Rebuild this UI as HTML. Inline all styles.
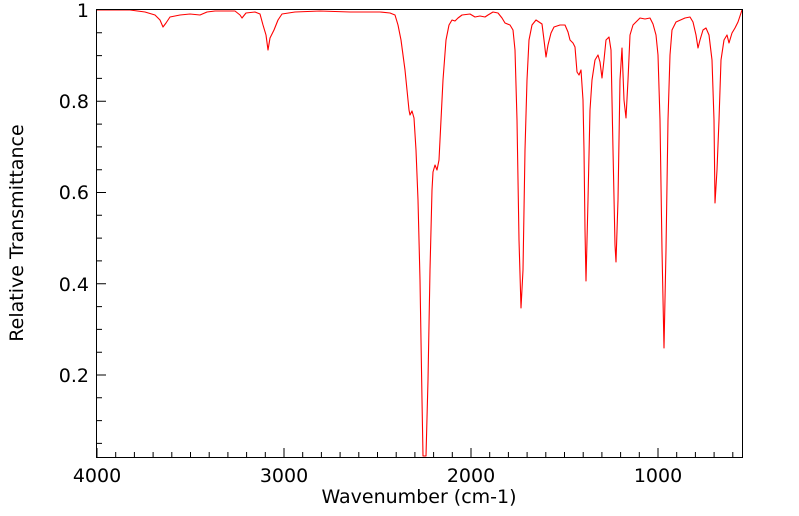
<!DOCTYPE html>
<html><head><meta charset="utf-8"><style>
html,body{margin:0;padding:0;background:#fff;}
svg{display:block;font-family:"DejaVu Sans","Liberation Sans",sans-serif;}
</style></head><body>
<svg width="799" height="516" viewBox="0 0 799 516" xmlns="http://www.w3.org/2000/svg">
<rect x="0" y="0" width="799" height="516" fill="#fff"/>
<g id="ticks" stroke="#000" stroke-width="1"></g>
<polyline fill="none" stroke="#ff0000" stroke-width="1.1" stroke-linejoin="round" points="97,10 130,10 145,12 155,15 160,20 163,27 166,23 170,17 180,15 190,14 200,15 207,12 215,11 235,11 240,15 242,18 246,13 255,12 260,14 263,25 266,35 268,50 270,38 274,30 278,20 282,14 295,12 320,11 350,12 380,12 390,13 395,15 398,25 401,40 403,55 405,70 407,90 409,110 410,115 412,111 414,118 416,150 418,200 420,280 422,400 423,456 426,456 428,380 430,270 432,190 433,172 435,165 437,170 439,160 441,120 443,80 446,40 449,25 452,20 455,21 458,18 462,15 470,14 475,17 480,16 485,17 488,15 493,12 498,13 502,18 505,23 510,25 513,30 515,50 517,120 519,240 521,308 523,270 525,150 527,80 529,40 532,25 536,20 542,24 544,40 546,57 548,45 551,33 554,27 560,25 565,25 568,32 570,40 573,43 575,47 577,72 579,75 581,70 583,100 584,150 585,230 586,281 588,200 590,110 592,80 595,60 598,55 600,62 602,78 604,60 606,40 609,37 611,50 613,150 615,245 616,262 618,200 620,80 622,48 624,100 626,118 628,80 630,35 633,25 636,22 640,18 645,19 650,18 653,24 656,35 658,55 660,120 662,250 664,348 666,250 668,120 670,55 672,30 676,22 685,18 690,17 693,22 696,35 698,48 700,40 703,30 706,28 709,35 712,60 714,120 715,203 717,170 719,120 721,60 724,40 727,35 729,43 732,33 735,28 738,22 742,10"/>
<rect x="96.5" y="9.5" width="646" height="448" fill="none" stroke="#000" stroke-width="1"/>
<g font-size="19" fill="#000">
<text x="97" y="482" text-anchor="middle">4000</text>
<text x="284" y="482" text-anchor="middle">3000</text>
<text x="471" y="482" text-anchor="middle">2000</text>
<text x="658" y="482" text-anchor="middle">1000</text>
<text x="419" y="503" text-anchor="middle">Wavenumber (cm-1)</text>
<text x="89" y="17" text-anchor="end">1</text>
<text x="89" y="108" text-anchor="end">0.8</text>
<text x="89" y="199" text-anchor="end">0.6</text>
<text x="89" y="291" text-anchor="end">0.4</text>
<text x="89" y="382" text-anchor="end">0.2</text>
<text transform="translate(23,233) rotate(-90)" text-anchor="middle">Relative Transmittance</text>
</g>
<script>
var g=document.getElementById('ticks'),s='';
for(var w=4000;w>=600;w-=100){var x=97+(4000-w)*0.187;var L=(w%1000==0)?9:5;s+='M'+x.toFixed(1)+' 457V'+(457-L)+' ';}
for(var i=1;i<=19;i++){var v=i*0.05;var y=466.25-v*456.25;if(y<11)continue;var L=(i%4==0)?9:5;s+='M97 '+y.toFixed(1)+'H'+(97+L)+' ';}
var p=document.createElementNS('http://www.w3.org/2000/svg','path');p.setAttribute('d',s);p.setAttribute('fill','none');g.appendChild(p);
</script>
</svg>
</body></html>
